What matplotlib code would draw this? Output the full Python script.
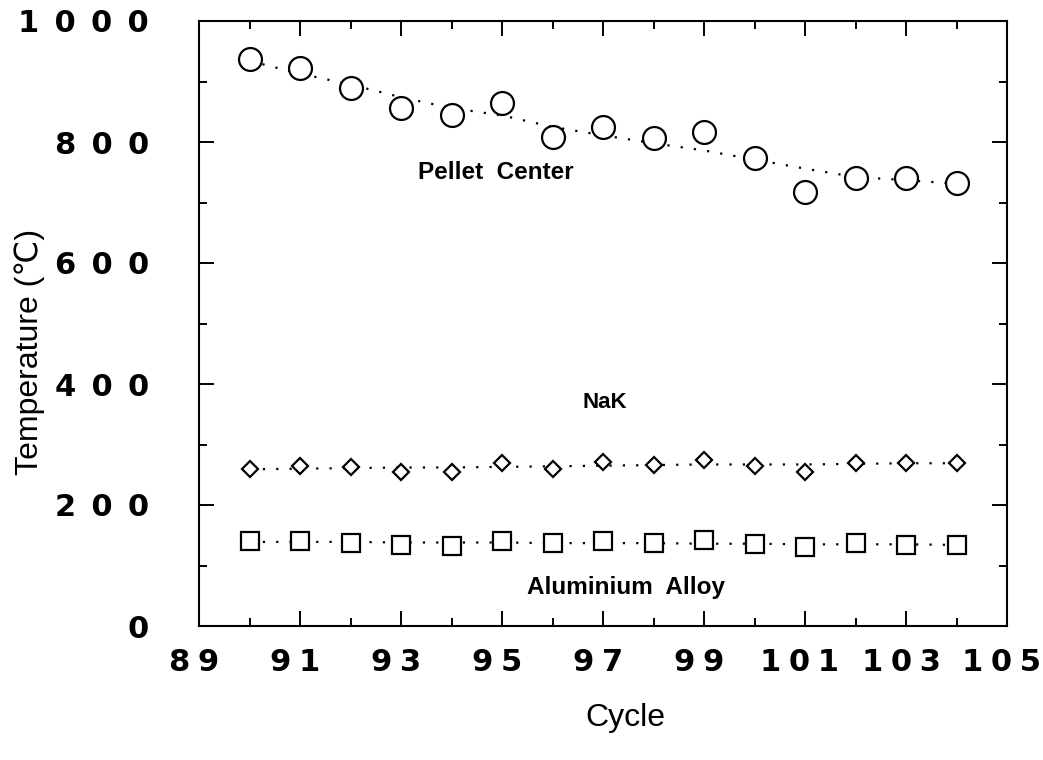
import matplotlib
matplotlib.use("Agg")
import matplotlib.pyplot as plt
from matplotlib.ticker import FixedLocator, FuncFormatter
from matplotlib.transforms import ScaledTranslation

plt.rcParams['font.family'] = ['Liberation Sans', 'DejaVu Sans']

cycles = [90, 91, 92, 93, 94, 95, 96, 97, 98, 99, 100, 101, 102, 103, 104]
pellet = [938, 923, 890, 856, 844, 865, 809, 824, 807, 816, 773, 717, 740, 741, 733]
pellet_trend = [934, 913, 895, 874, 856, 844, 825, 811, 798, 786, 771, 756, 742, 737, 731]
nak = [260, 264, 263, 254, 254, 269, 259, 271, 266, 274, 265, 255, 270, 270, 270]
nak_trend = [259, 260, 261, 262, 262, 263, 264, 265, 266, 267, 267, 267, 268, 269, 269]
alu = [141, 140, 138, 134, 133, 140, 137, 141, 137, 142, 135, 131, 137, 134, 134]
alu_trend = [139, 139, 139, 138, 138, 138, 137, 137, 137, 136, 136, 135, 135, 135, 134]

x_major = [89, 91, 93, 95, 97, 99, 101, 103, 105]
x_minor = [90, 92, 94, 96, 98, 100, 102, 104]
y_major = [0, 200, 400, 600, 800, 1000]
y_minor = [100, 300, 500, 700, 900]

fig = plt.figure(figsize=(10.43, 7.60), dpi=100)
ax = fig.add_axes([199/1043, 1-626/760, (1007-199)/1043, (626-21)/760])

dot = (0, (1, 5))
for trend in (pellet_trend, nak_trend, alu_trend):
    ax.plot(cycles, trend, color='black', lw=1.6, linestyle=dot)

ax.plot(cycles, pellet, linestyle='none', marker='o', ms=16.5, mfc='white', mec='black', mew=1.6)
ax.plot(cycles, nak, linestyle='none', marker='D', ms=8.5, mfc='white', mec='black', mew=1.6)
ax.plot(cycles, alu, linestyle='none', marker='s', ms=12.5, mfc='white', mec='black', mew=1.6)

ax.set_xlim(x_major[0], x_major[-1])
ax.set_ylim(y_major[0], y_major[-1])
ax.xaxis.set_major_locator(FixedLocator(x_major))
ax.xaxis.set_minor_locator(FixedLocator(x_minor))
ax.yaxis.set_major_locator(FixedLocator(y_major))
ax.yaxis.set_minor_locator(FixedLocator(y_minor))

ax.xaxis.set_major_formatter(FuncFormatter(lambda v, p: '\u2005'.join(str(int(round(v))))))
ax.yaxis.set_major_formatter(FuncFormatter(lambda v, p: '\u2002'.join(str(int(round(v))))))

ax.tick_params(which='both', direction='in', top=True, right=True, width=1.4)
ax.tick_params(which='major', length=11)
ax.tick_params(which='minor', length=5.5)
ax.tick_params(axis='x', which='major', pad=16)
ax.tick_params(axis='y', which='major', pad=36)
for lab in ax.get_xticklabels() + ax.get_yticklabels():
    lab.set_fontsize(22)
    lab.set_fontweight('bold')
    lab.set_fontfamily(['DejaVu Sans'])
shift = ScaledTranslation(-5/100, 0, fig.dpi_scale_trans)
for t in ax.xaxis.get_major_ticks():
    t.label1.set_transform(t.label1.get_transform() + shift)
for s in ax.spines.values():
    s.set_linewidth(1.5)

ax.text(94.87, 750, 'Pellet  Center', ha='center', va='center', fontsize=17.5, fontweight='bold')
ax.text(97.04, 370, 'NaK', ha='center', va='center', fontsize=16, fontweight='bold')
ax.text(97.46, 64, 'Aluminium  Alloy', ha='center', va='center', fontsize=17.5, fontweight='bold')

fig.text(625/1043, 1-718/760, 'Cycle', ha='center', va='center', fontsize=23)
fig.text(30/1043, 1-352/760, 'Temperature (\u2103)', ha='center', va='center', rotation=90, fontsize=23)

fig.savefig('out.png', dpi=100)
